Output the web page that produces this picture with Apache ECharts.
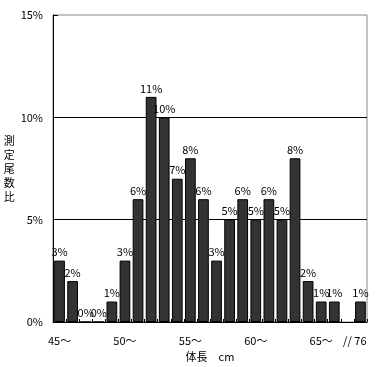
<!DOCTYPE html>
<html><head><meta charset="utf-8">
<script src="https://cdn.jsdelivr.net/npm/echarts@6/dist/echarts.min.js"></script>
<style>html,body{margin:0;padding:0;background:#fff}#c{width:382px;height:367px}</style>
</head><body><div id="c"></div>
<script>
const categories = ['45','46','47','48','49','50','51','52','53','54','55','56','57','58','59','60','61','62','63','64','65','66','','76'];
const tickLabels = ['45～','','','','','50～','','','','','55～','','','','','60～','','','','','65～','','//','76'];
const values = [3,2,0,0,1,3,6,11,10,7,8,6,3,5,6,5,6,5,8,2,1,1,null,1];
const yTicks = ['0%','5%','10%','15%'];
const gridValues = [5, 10];
const yName = '測\n定\n尾\n数\n比';
const FONT = '"Noto Sans CJK JP", sans-serif';
const chart = echarts.init(document.getElementById('c'));
chart.setOption({
  animation: false,
  backgroundColor: '#fff',
  textStyle: {fontFamily: FONT},
  grid: {left: 53, right: 15, top: 15, bottom: 45, outerBoundsMode: 'none', show: true, borderColor: '#888888', borderWidth: 1, backgroundColor: 'transparent'},
  xAxis: {
    type: 'category', data: categories,
    name: '体長　cm', nameLocation: 'middle', nameGap: 24,
    nameTextStyle: {color: '#000', fontSize: 11, fontFamily: FONT},
    axisLine: {lineStyle: {color: '#000', width: 1}},
    axisTick: {show: true, inside: true, length: 3, lineStyle: {color: '#000'}},
    axisLabel: {interval: 0, color: '#000', fontSize: 11, margin: 13, fontFamily: FONT,
      formatter: (v, i) => tickLabels[i]},
    splitLine: {show: false}
  },
  yAxis: {
    type: 'value', min: 0, max: 15, interval: 5,
    name: yName, nameLocation: 'middle', nameGap: 24, nameRotate: 0,
    nameTextStyle: {color: '#000', fontSize: 11, lineHeight: 14, fontFamily: FONT},
    axisLine: {show: true, lineStyle: {color: '#000', width: 1}},
    axisTick: {show: true, inside: true, length: 5, lineStyle: {color: '#000'}},
    axisLabel: {color: '#000', fontSize: 11, margin: 10, fontFamily: FONT,
      formatter: (v) => yTicks[Math.round(v / 5)]},
    splitLine: {show: false}
  },
  series: [{
    type: 'bar', data: values, barCategoryGap: '18%', z: 3,
    itemStyle: {color: '#333333', borderColor: '#000', borderWidth: 1},
    label: {show: true, position: 'top', distance: 3, color: '#000', fontSize: 11, fontFamily: FONT,
      formatter: (p) => p.value == null ? '' : p.value + '%'},
    markLine: {
      silent: true, symbol: 'none', z: 1, label: {show: false},
      lineStyle: {color: '#000', type: 'solid', width: 1},
      emphasis: {disabled: true},
      data: gridValues.map(v => ({yAxis: v}))
    }
  }]
});
</script></body></html>
